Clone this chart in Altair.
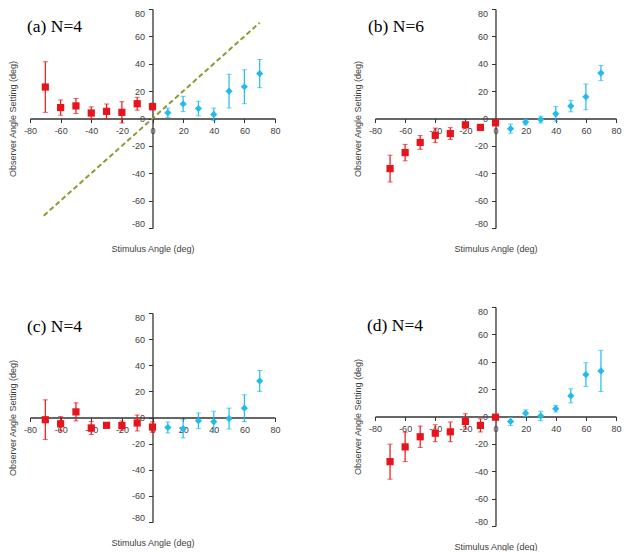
import altair as alt
import pandas as pd

# ---------------- data ----------------
angles_neg = [-70, -60, -50, -40, -30, -20, -10, 0]
angles_pos = [10, 20, 30, 40, 50, 60, 70]
ticks = [-80, -60, -40, -20, 0, 20, 40, 60, 80]

a_neg = [23.0, 8.0, 9.2, 4.0, 5.2, 4.5, 10.8, 8.7]
a_neg_err = [18.5, 5.6, 5.5, 4.5, 5.4, 7.8, 4.7, 2.5]
a_pos = [4.2, 10.6, 7.3, 3.0, 20.0, 23.2, 32.8]
a_pos_err = [3.4, 5.6, 5.3, 4.6, 12.3, 12.4, 10.3]

b_neg = [-36.6, -24.9, -17.5, -12.3, -11.0, -4.6, -6.5, -3.2]
b_neg_err = [9.8, 6.0, 5.0, 5.3, 4.3, 1.7, 2.0, 1.0]
b_pos = [-7.4, -2.6, -0.8, 3.4, 9.1, 15.8, 33.2]
b_pos_err = [3.3, 2.0, 2.5, 5.3, 4.2, 9.4, 5.5]

c_neg = [-1.7, -4.8, 4.3, -8.0, -6.0, -6.2, -4.2, -7.3]
c_neg_err = [15.2, 5.5, 6.9, 5.0, 0.8, 3.5, 6.1, 4.0]
c_pos = [-7.6, -8.6, -2.5, -3.2, -0.8, 7.1, 28.0]
c_pos_err = [4.2, 7.0, 6.0, 8.0, 8.0, 10.3, 8.0]

d_neg = [-33.0, -22.2, -14.8, -12.2, -11.2, -3.6, -6.5, -0.5]
d_neg_err = [12.8, 10.8, 7.8, 6.2, 7.2, 5.6, 4.8, 1.0]
d_pos = [-3.6, 2.4, 0.4, 5.7, 15.1, 30.6, 33.3]
d_pos_err = [2.9, 2.4, 3.5, 2.4, 5.1, 8.7, 15.0]

diag_ends = [-71, 70]

RED = "#E8141C"
CYAN = "#22BBEC"
OLIVE = "#8C9A32"
AXIS_COL = "#333333"
TEXT_COL = "#404040"


def panel(neg, neg_err, pos, pos_err, label, w, h, title_off, title_dx, diag=False):
    df = pd.DataFrame({
        "angle": angles_neg + angles_pos,
        "val": neg + pos,
        "err": neg_err + pos_err,
        "grp": ["neg"] * len(neg) + ["pos"] * len(pos),
    })
    xs = alt.Scale(domain=[-80, 80], nice=False, zero=False)
    ys = alt.Scale(domain=[-80, 80], nice=False, zero=False)
    xax = alt.Axis(values=ticks, offset=-h / 2, grid=False, labelFlush=False,
                   tickSize=4, labelPadding=4, domainColor=AXIS_COL, tickColor=AXIS_COL,
                   domainWidth=1.3, labelExpr="'' + datum.value",
                   title="Stimulus Angle (deg)", titleY=h / 2 + 16, titleBaseline="top")
    yax = alt.Axis(values=ticks, offset=-w / 2, grid=False, labelFlush=True,
                   tickSize=4, labelPadding=4, domainColor=AXIS_COL, tickColor=AXIS_COL,
                   domainWidth=1.3, labelExpr="'' + datum.value",
                   title="Observer Angle Setting (deg)", titleX=-w / 2 - 13)
    color = alt.Color("grp:N", scale=alt.Scale(domain=["neg", "pos"], range=[RED, CYAN]), legend=None)
    shape = alt.Shape("grp:N", scale=alt.Scale(domain=["neg", "pos"], range=["square", "diamond"]), legend=None)

    base = alt.Chart(df).transform_calculate(
        lo="datum.val - datum.err", hi="datum.val + datum.err"
    )
    x = alt.X("angle:Q", scale=xs, axis=xax)
    rules = base.mark_rule(strokeWidth=1.2).encode(
        x=x, y=alt.Y("lo:Q", scale=ys, axis=yax), y2="hi:Q", color=color)
    cap_lo = base.mark_tick(orient="horizontal", size=5, thickness=1).encode(
        x=x, y=alt.Y("lo:Q", scale=ys, axis=yax), color=color)
    cap_hi = base.mark_tick(orient="horizontal", size=5, thickness=1).encode(
        x=x, y=alt.Y("hi:Q", scale=ys, axis=yax), color=color)
    pts = base.mark_point(filled=True, size=52, opacity=1).encode(
        x=x, y=alt.Y("val:Q", scale=ys, axis=yax), color=color, shape=shape)
    layers = []
    if diag:
        ddf = pd.DataFrame({"dx": diag_ends, "dy": diag_ends})
        line = alt.Chart(ddf).mark_line(strokeDash=[5, 3], color=OLIVE, strokeWidth=2).encode(
            x=alt.X("dx:Q", scale=xs, axis=xax), y=alt.Y("dy:Q", scale=ys, axis=yax))
        layers.append(line)
    layers += [rules, cap_lo, cap_hi, pts]
    return alt.layer(*layers).properties(
        width=w, height=h,
        title=alt.TitleParams(text=label, anchor="start", frame="group", orient="top",
                              offset=title_off, dx=title_dx, baseline="top",
                              font="Liberation Serif", fontSize=17.5,
                              fontWeight="normal", color="black"))


pa = panel(a_neg, a_neg_err, a_pos, a_pos_err, "(a) N=4", 245, 219, -27, -3, diag=True)
pb = panel(b_neg, b_neg_err, b_pos, b_pos_err, "(b) N=6", 241, 219, -27, -7)
pc = panel(c_neg, c_neg_err, c_pos, c_pos_err, "(c) N=4", 245, 209, -22.5, -3)
pd_ = panel(d_neg, d_neg_err, d_pos, d_pos_err, "(d) N=4", 241, 219, -27.5, -8)

left = alt.vconcat(pa, pc, spacing=59)
right = alt.vconcat(pb, pd_, spacing=53)

chart = alt.hconcat(left, right, spacing=72).properties(
    padding={"left": 0, "top": 0, "right": 0, "bottom": 0}
).configure_view(stroke=None).configure_axis(
    labelFont="Liberation Sans", labelFontSize=9, labelColor=TEXT_COL,
    titleFont="Liberation Sans", titleFontSize=9, titleFontWeight="normal",
    titleColor=TEXT_COL
)

chart.save("out.html", embed_options={"renderer": "svg", "actions": False})
